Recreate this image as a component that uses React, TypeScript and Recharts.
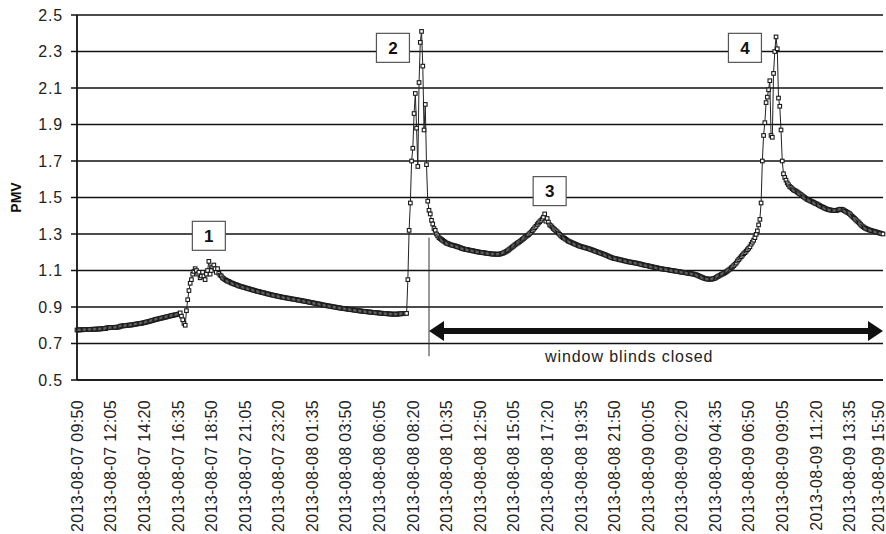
import {
  LineChart,
  Line,
  XAxis,
  YAxis,
  CartesianGrid,
  ReferenceLine,
  ReferenceDot,
} from "recharts";

// 5-minute samples starting 2013-08-07 09:50, one row per hour
const START = Date.UTC(2013, 7, 7, 9, 50);
const STEP_MIN = 5;

const pmvPart1 = [
  0.774, 0.774, 0.775, 0.775, 0.775, 0.776, 0.776, 0.776, 0.777, 0.777, 0.777, 0.777,
  0.778, 0.778, 0.778, 0.779, 0.779, 0.779, 0.78, 0.78, 0.781, 0.781, 0.782, 0.782,
  0.786, 0.786, 0.787, 0.787, 0.788, 0.788, 0.788, 0.789, 0.789, 0.79, 0.791, 0.795,
  0.796, 0.797, 0.797, 0.798, 0.799, 0.8, 0.801, 0.801, 0.802, 0.803, 0.804, 0.806,
  0.807, 0.808, 0.809, 0.81, 0.811, 0.813, 0.814, 0.816, 0.818, 0.819, 0.821, 0.823,
  0.825, 0.827, 0.829, 0.831, 0.833, 0.834, 0.836, 0.838, 0.839, 0.841, 0.843, 0.844,
  0.846, 0.848, 0.849, 0.851, 0.853, 0.854, 0.856, 0.857, 0.858, 0.86, 0.862, 0.868,
  0.85, 0.83, 0.81, 0.8, 0.88, 0.94, 0.99, 1.03, 1.05, 1.08, 1.095, 1.11,
  1.1, 1.08, 1.09, 1.06, 1.07, 1.09, 1.07, 1.05, 1.08, 1.1, 1.15, 1.08,
  1.1, 1.12, 1.13, 1.11, 1.09, 1.11, 1.085, 1.075, 1.07, 1.06, 1.055, 1.05,
  1.046, 1.042, 1.04, 1.036, 1.032, 1.03, 1.027, 1.024, 1.022, 1.019, 1.016, 1.014,
  1.012, 1.01, 1.008, 1.006, 1.004, 1.002, 1.0, 0.998, 0.996, 0.994, 0.992, 0.99,
  0.988, 0.986, 0.985, 0.983, 0.981, 0.979, 0.978, 0.976, 0.974, 0.972, 0.971, 0.969,
  0.967, 0.966, 0.964, 0.963, 0.961, 0.96, 0.958, 0.957, 0.955, 0.954, 0.953, 0.951,
  0.95, 0.949, 0.948, 0.946, 0.945, 0.944, 0.943, 0.942, 0.941, 0.939, 0.938, 0.937,
  0.936, 0.934, 0.933, 0.932, 0.93, 0.929, 0.928, 0.926, 0.925, 0.924, 0.922, 0.921,
  0.92, 0.918, 0.917, 0.916, 0.914, 0.912, 0.911, 0.91, 0.909, 0.907, 0.906, 0.905,
  0.904, 0.902, 0.901, 0.9, 0.899, 0.898, 0.896, 0.895, 0.894, 0.893, 0.892, 0.891,
];

const pmvPart2 = [
  0.89, 0.889, 0.888, 0.887, 0.886, 0.885, 0.884, 0.883, 0.882, 0.881, 0.88, 0.879,
  0.878, 0.877, 0.877, 0.876, 0.875, 0.874, 0.873, 0.873, 0.872, 0.871, 0.87, 0.87,
  0.869, 0.868, 0.868, 0.867, 0.866, 0.866, 0.865, 0.864, 0.864, 0.863, 0.863, 0.862,
  0.862, 0.861, 0.861, 0.86, 0.862, 0.86, 0.861, 0.863, 0.862, 0.864, 0.863, 0.865,
  0.864, 0.865, 1.05, 1.32, 1.47, 1.7, 1.77, 1.96, 2.07, 1.88, 1.67, 2.13,
  2.35, 2.41, 2.22, 1.87, 2.01, 1.68, 1.48, 1.43, 1.41, 1.375, 1.355, 1.33,
  1.32, 1.3, 1.29, 1.28, 1.275, 1.27, 1.265, 1.26, 1.255, 1.25, 1.248, 1.245,
  1.242, 1.24, 1.238, 1.236, 1.235, 1.232, 1.23, 1.228, 1.226, 1.222, 1.22, 1.218,
  1.216, 1.215, 1.214, 1.212, 1.211, 1.21, 1.208, 1.207, 1.205, 1.204, 1.202, 1.201,
  1.2, 1.199, 1.198, 1.197, 1.196, 1.195, 1.194, 1.193, 1.192, 1.191, 1.19, 1.19,
  1.19, 1.189, 1.19, 1.189, 1.19, 1.192, 1.194, 1.197, 1.2, 1.204, 1.208, 1.213,
  1.218, 1.224, 1.229, 1.234, 1.24, 1.245, 1.25, 1.254, 1.259, 1.264, 1.27, 1.275,
  1.281, 1.287, 1.292, 1.296, 1.303, 1.31, 1.318, 1.326, 1.334, 1.342, 1.352, 1.36,
  1.367, 1.374, 1.382, 1.392, 1.41, 1.37, 1.385, 1.365, 1.35, 1.345, 1.338, 1.33,
  1.324, 1.318, 1.312, 1.305, 1.298, 1.29, 1.284, 1.28, 1.276, 1.271, 1.266, 1.261,
  1.258, 1.255, 1.252, 1.249, 1.246, 1.243, 1.24, 1.237, 1.234, 1.232, 1.23, 1.228,
  1.226, 1.224, 1.222, 1.22, 1.218, 1.215, 1.213, 1.211, 1.208, 1.205, 1.203, 1.2,
  1.198, 1.195, 1.193, 1.19, 1.188, 1.185, 1.182, 1.179, 1.176, 1.173, 1.17, 1.168,
];

const pmvPart3 = [
  1.166, 1.165, 1.163, 1.162, 1.16, 1.158, 1.157, 1.155, 1.153, 1.152, 1.15, 1.148,
  1.147, 1.146, 1.145, 1.143, 1.142, 1.141, 1.14, 1.138, 1.137, 1.135, 1.133, 1.131,
  1.13, 1.128, 1.127, 1.126, 1.124, 1.122, 1.121, 1.119, 1.118, 1.116, 1.115, 1.113,
  1.112, 1.11, 1.109, 1.108, 1.107, 1.106, 1.105, 1.104, 1.103, 1.101, 1.1, 1.099,
  1.098, 1.097, 1.096, 1.095, 1.094, 1.092, 1.091, 1.09, 1.089, 1.088, 1.087, 1.085,
  1.084, 1.083, 1.082, 1.081, 1.08, 1.078, 1.076, 1.073, 1.07, 1.067, 1.064, 1.061,
  1.058, 1.056, 1.054, 1.053, 1.052, 1.053, 1.052, 1.054, 1.056, 1.058, 1.062, 1.067,
  1.07, 1.074, 1.078, 1.081, 1.084, 1.088, 1.093, 1.098, 1.103, 1.108, 1.115, 1.12,
  1.127, 1.134, 1.141, 1.152, 1.16, 1.168, 1.176, 1.184, 1.192, 1.198, 1.206, 1.214,
  1.222, 1.23, 1.244, 1.255, 1.266, 1.28, 1.298, 1.317, 1.35, 1.38, 1.47, 1.7,
  1.84, 1.91, 2.02, 2.05, 2.09, 2.14, 1.84, 1.83, 2.18, 2.3, 2.38, 2.315,
  2.045, 2.0, 1.87, 1.7, 1.63, 1.61, 1.595, 1.58, 1.57, 1.56, 1.555, 1.548,
  1.542, 1.538, 1.535, 1.53, 1.525, 1.52, 1.516, 1.51, 1.505, 1.5, 1.495, 1.49,
  1.487, 1.484, 1.48, 1.477, 1.474, 1.47, 1.467, 1.464, 1.46, 1.456, 1.452, 1.449,
  1.446, 1.442, 1.439, 1.436, 1.434, 1.432, 1.431, 1.43, 1.429, 1.428, 1.428, 1.43,
  1.432, 1.434, 1.436, 1.435, 1.432, 1.428, 1.424, 1.42, 1.416, 1.412, 1.405, 1.398,
  1.392, 1.386, 1.379, 1.372, 1.366, 1.36, 1.352, 1.345, 1.34, 1.335, 1.331, 1.328,
  1.325, 1.322, 1.32, 1.318, 1.316, 1.314, 1.312, 1.31, 1.308, 1.306, 1.304, 1.302,
  1.3,
];

const pmv = [...pmvPart1, ...pmvPart2, ...pmvPart3];

const yTicks = [0.5, 0.7, 0.9, 1.1, 1.3, 1.5, 1.7, 1.9, 2.1, 2.3, 2.5];

const pad = (n: number) => String(n).padStart(2, "0");
const stamp = (i: number) => {
  const d = new Date(START + i * STEP_MIN * 60000);
  return `${d.getUTCFullYear()}-${pad(d.getUTCMonth() + 1)}-${pad(d.getUTCDate())} ${pad(
    d.getUTCHours()
  )}:${pad(d.getUTCMinutes())}`;
};

const times = pmv.map((_, i) => stamp(i));
const data = pmv.map((v, i) => ({ time: times[i], pmv: v }));

// numbered call-outs: sample index and PMV level of the box centre
const callouts = [
  { label: "1", at: 106, level: 1.29 },
  { label: "2", at: 254, level: 2.32 },
  { label: "3", at: 380, level: 1.535 },
  { label: "4", at: 537, level: 2.32 },
];

// window blinds closed from this sample to the end
const blindsFrom = 283;
const blindsTo = pmv.length - 1;
const blindsMarkTop = 1.28;
const blindsMarkBottom = 0.63;
const arrowLevel = 0.768;
const blindsTextAt = 444;
const blindsTextLevel = 0.629;

const FONT = "'Liberation Sans', Arial, Helvetica, sans-serif";
const CHART_W = 886;

const SquareDot = (p: any) => {
  if (p.cx == null || p.cy == null) return <g key={p.index} />;
  return (
    <rect
      key={p.index}
      x={p.cx - 1.8}
      y={p.cy - 1.8}
      width={3.6}
      height={3.6}
      fill="#fff"
      stroke="#1a1a1a"
      strokeWidth={1.1}
    />
  );
};

const XTick = ({ x, y, payload }: any) => {
  // keep the last label inside the picture
  const tx = Math.min(x, CHART_W - 8);
  const ty = y + 12;
  return (
    <text
      x={tx}
      y={ty}
      transform={`rotate(-90 ${tx} ${ty})`}
      textAnchor="end"
      dy="0.36em"
      fontSize={16}
      letterSpacing={0.35}
      fill="#222"
      fontFamily={FONT}
    >
      {payload.value}
    </text>
  );
};

const boxShape = (label: string) => (p: any) => (
  <g>
    <rect
      x={p.cx - 16.5}
      y={p.cy - 14.5}
      width={33}
      height={29}
      fill="#fff"
      stroke="#555"
      strokeWidth={1.2}
    />
    <text
      x={p.cx}
      y={p.cy}
      dy="0.36em"
      textAnchor="middle"
      fontSize={17}
      fontWeight="bold"
      fill="#111"
      fontFamily={FONT}
    >
      {label}
    </text>
  </g>
);

const ArrowShape = (p: any) => {
  const { x1, x2, y1 } = p;
  const head = 15;
  const half = 10;
  return (
    <g>
      <line x1={x1 + head - 2} y1={y1} x2={x2 - head + 2} y2={y1} stroke="#111" strokeWidth={6} />
      <polygon points={`${x1},${y1} ${x1 + head},${y1 - half} ${x1 + head},${y1 + half}`} fill="#111" />
      <polygon points={`${x2},${y1} ${x2 - head},${y1 - half} ${x2 - head},${y1 + half}`} fill="#111" />
    </g>
  );
};

const blindsText = (p: any) => (
  <text
    x={p.cx}
    y={p.cy}
    dy="0.36em"
    textAnchor="middle"
    fontSize={16}
    letterSpacing={0.9}
    fill="#222"
    fontFamily={FONT}
  >
    window blinds closed
  </text>
);

const PmvLabel = (props: any) => {
  const vb = props.viewBox;
  const cx = 16;
  const cy = vb.y + vb.height / 2;
  return (
    <text
      x={cx}
      y={cy}
      transform={`rotate(-90 ${cx} ${cy})`}
      textAnchor="middle"
      dy="0.36em"
      fontSize={14}
      fontWeight="bold"
      fill="#111"
      fontFamily={FONT}
    >
      PMV
    </text>
  );
};

export default function App() {
  return (
    <div style={{ position: "absolute", left: 0, top: 0, width: CHART_W, height: 534, background: "#fff" }}>
      <LineChart
        width={CHART_W}
        height={534}
        data={data}
        margin={{ top: 15, right: 3, left: 0, bottom: 0 }}
      >
        <CartesianGrid vertical={false} stroke="#111" strokeWidth={1.6} />
        <XAxis
          dataKey="time"
          interval={26}
          tickLine={false}
          axisLine={{ stroke: "#111", strokeWidth: 1.6 }}
          height={154}
          tick={<XTick />}
        />
        <YAxis
          domain={[0.5, 2.5]}
          ticks={yTicks}
          tickFormatter={(v: number) => v.toFixed(1)}
          width={77}
          tickSize={6}
          tickMargin={8}
          tickLine={{ stroke: "#111", strokeWidth: 1.5 }}
          axisLine={{ stroke: "#111", strokeWidth: 1.8 }}
          tick={{ fontSize: 16, fill: "#222", fontFamily: FONT, letterSpacing: 0.8 }}
          label={{ content: PmvLabel }}
        />
        <ReferenceLine
          segment={[
            { x: times[blindsFrom], y: blindsMarkTop },
            { x: times[blindsFrom], y: blindsMarkBottom },
          ]}
          stroke="#333"
          strokeWidth={1}
        />
        <ReferenceLine
          segment={[
            { x: times[blindsFrom], y: arrowLevel },
            { x: times[blindsTo], y: arrowLevel },
          ]}
          stroke="#111"
          shape={ArrowShape}
        />
        <ReferenceDot
          x={times[blindsTextAt]}
          y={blindsTextLevel}
          r={0}
          shape={blindsText}
        />
        <Line
          type="linear"
          dataKey="pmv"
          stroke="#222"
          strokeWidth={1}
          dot={SquareDot}
          activeDot={false}
          isAnimationActive={false}
        />
        {callouts.map((c) => (
          <ReferenceDot
            key={c.label}
            x={times[c.at]}
            y={c.level}
            r={0}
            shape={boxShape(c.label)}
          />
        ))}
      </LineChart>
    </div>
  );
}
